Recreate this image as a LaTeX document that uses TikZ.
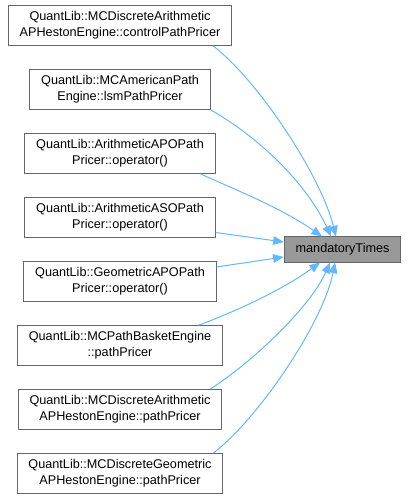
\documentclass[tikz,border=0pt]{standalone}
\usepackage{fontspec}
\setmainfont{Liberation Sans}
\usepackage{xcolor}
\usepackage{tikz}
\usetikzlibrary{arrows.meta,trees}
\definecolor{edgeblue}{HTML}{63B8FF}
\definecolor{boxgrey}{HTML}{666666}
\definecolor{rootfill}{HTML}{999999}

\begin{document}
\begin{tikzpicture}[
    grow=west,
    level 1/.style={sibling distance=48pt, level distance=166.9pt},
    edge from parent/.style={draw=none},
    every node/.style={font=\fontsize{9.5}{12}\selectfont, align=center, inner xsep=8.5pt, inner ysep=0pt},
    caller/.style={draw=boxgrey, fill=white, line width=0.75pt, minimum height=30pt},
    callee/.style={draw=boxgrey, fill=rootfill, line width=0.75pt, minimum height=18.75pt},
    call/.style={draw=edgeblue, line width=0.75pt, -{Triangle[length=8pt,width=6.5pt]}}
]
\useasboundingbox (-256.9pt,-187.1pt) rectangle (48.4pt,187.1pt);
\node[callee] (times) {mandatoryTimes}
    child {node[caller] (ctrl) {QuantLib::MCDiscreteArithmetic\\APHestonEngine::controlPathPricer}}
    child {node[caller] (lsm) {QuantLib::MCAmericanPath\\Engine::lsmPathPricer}}
    child {node[caller] (apo) {QuantLib::ArithmeticAPOPath\\Pricer::operator()}}
    child {node[caller] (aso) {QuantLib::ArithmeticASOPath\\Pricer::operator()}}
    child {node[caller] (gapo) {QuantLib::GeometricAPOPath\\Pricer::operator()}}
    child {node[caller] (basket) {QuantLib::MCPathBasketEngine\\::pathPricer}}
    child {node[caller] (arith) {QuantLib::MCDiscreteArithmetic\\APHestonEngine::pathPricer}}
    child {node[caller] (geom) {QuantLib::MCDiscreteGeometric\\APHestonEngine::pathPricer}};

\draw[call] ([xshift=-14.25pt]ctrl.south east) .. controls +(34pt,-26pt) and +(-11pt,45pt) .. ([xshift=-5pt]times.north);
\draw[call] (lsm.south east) .. controls +(34pt,-19pt) and +(-19pt,41pt) .. ([xshift=-8.6pt]times.north);
\draw[call] ([xshift=-11.25pt]apo.south east) .. controls +(30pt,-13.5pt) and +(-30pt,21pt) .. ([xshift=-15.4pt]times.north);
\draw[call] ([yshift=-11.25pt]aso.east) -- ([yshift=5.6pt]times.west);
\draw[call] ([yshift=10.9pt]gapo.east) -- ([yshift=-5.6pt]times.west);
\draw[call] ([xshift=-18pt]basket.north east) .. controls +(30pt,11pt) and +(-26pt,-19pt) .. ([xshift=-16.9pt]times.south);
\draw[call] ([xshift=-9pt]arith.north east) .. controls +(30pt,19pt) and +(-15pt,-34pt) .. ([xshift=-9.4pt]times.south);
\draw[call] ([xshift=-7.5pt]geom.north east) .. controls +(34pt,26pt) and +(-9pt,-45pt) .. ([xshift=-5.6pt]times.south);
\end{tikzpicture}
\end{document}
